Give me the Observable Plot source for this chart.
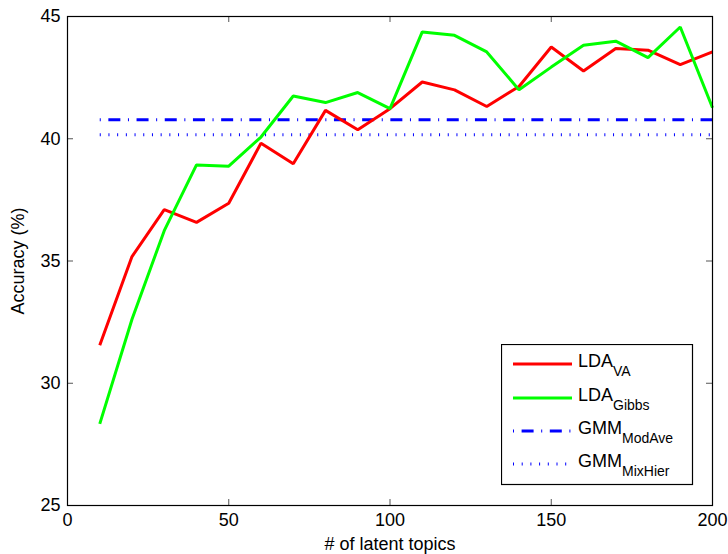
<!DOCTYPE html>
<html><head><meta charset="utf-8">
<script src="https://cdn.jsdelivr.net/npm/d3@7"></script>
<script src="https://cdn.jsdelivr.net/npm/@observablehq/plot@0.6"></script>
<style>
body{margin:0;background:#fff;}
#chart{position:relative;width:728px;height:554px;font-family:"Liberation Sans",Arial,sans-serif;}
#legend{position:absolute;left:501px;top:344px;}
</style></head><body><div id="chart"></div>
<script>
const topics = [10,20,30,40,50,60,70,80,90,100,110,120,130,140,150,160,170,180,190,200];
const ldaVA = [31.55,35.18,37.1,36.58,37.36,39.82,38.98,41.16,40.37,41.23,42.32,42.0,41.32,42.14,43.75,42.77,43.69,43.62,43.03,43.55];
const ldaGibbs = [28.34,32.62,36.24,38.93,38.88,40.07,41.75,41.48,41.89,41.23,44.37,44.23,43.55,42.0,42.93,43.82,43.99,43.32,44.57,41.27];
const gmmModAve = 40.78;
const gmmMixHier = 40.16;
const xTicks = [0,50,100,150,200];
const yTicks = [25,30,35,40,45];
const legendMain = ["LDA","LDA","GMM","GMM"];
const legendSub = ["VA","Gibbs","ModAve","MixHier"];

const W = 728, H = 554, mL = 67, mR = 16, mT = 16, mB = 49;
const plotW = W - mL - mR, plotH = H - mT - mB;
const TL = 6;

const rows = (vals) => topics.map((t, i) => ({t, v: Array.isArray(vals) ? vals[i] : vals}));

const styles = [
  {stroke: "#ff0000", strokeWidth: 3, dash: null},
  {stroke: "#00ff00", strokeWidth: 3, dash: null},
  {stroke: "#0000ff", strokeWidth: 3, dash: "1,7.6,12,7.6"},
  {stroke: "#0000ff", strokeWidth: 3, dash: "1,7.7"}
];
const seriesVals = [ldaVA, ldaGibbs, gmmModAve, gmmMixHier];

const chart = Plot.plot({
  width: W, height: H,
  marginLeft: mL, marginRight: mR, marginTop: mT, marginBottom: mB,
  style: {fontFamily: '"Liberation Sans", Arial, sans-serif', fontSize: "18px", color: "#000", background: "#fff"},
  x: {domain: [0, 200]},
  y: {domain: [25, 45]},
  marks: [
    Plot.axisX({ticks: xTicks, tickSize: 0, tickPadding: 8, fontSize: 18, label: "# of latent topics", labelArrow: "none", labelAnchor: "center", labelOffset: 44}),
    Plot.axisY({ticks: yTicks, tickSize: 0, tickPadding: 7, fontSize: 18, label: "Accuracy (%)", labelArrow: "none", labelAnchor: "center", labelOffset: 56}),
    Plot.tickX(xTicks, {x: d => d, insetTop: plotH - TL, stroke: "#555"}),
    Plot.tickX(xTicks, {x: d => d, insetBottom: plotH - TL, stroke: "#555"}),
    Plot.tickY(yTicks, {y: d => d, insetRight: plotW - TL, stroke: "#555"}),
    Plot.tickY(yTicks, {y: d => d, insetLeft: plotW - TL, stroke: "#555"}),
    ...[3, 2, 0, 1].map(i => Plot.line(rows(seriesVals[i]), {
      x: "t", y: "v", stroke: styles[i].stroke, strokeWidth: styles[i].strokeWidth,
      strokeDasharray: styles[i].dash, strokeLinecap: "butt", strokeLinejoin: "miter"
    })),
    Plot.frame({stroke: "#000", strokeWidth: 1.2})
  ]
});
document.getElementById("chart").appendChild(chart);

// Legend box inside the plot area
const lg = d3.select("#chart").append("svg").attr("id", "legend")
  .attr("width", 194).attr("height", 143);
lg.append("rect").attr("x", 0.5).attr("y", 0.5).attr("width", 191).attr("height", 140)
  .attr("fill", "#fff").attr("stroke", "#000").attr("stroke-width", 1.2);
const rowY = [20, 54, 87, 120];
legendMain.forEach((m, i) => {
  const g = lg.append("g");
  g.append("line").attr("x1", 12).attr("x2", 71).attr("y1", rowY[i]).attr("y2", rowY[i])
    .attr("stroke", styles[i].stroke).attr("stroke-width", styles[i].strokeWidth)
    .attr("stroke-dasharray", styles[i].dash);
  const t = g.append("text").attr("x", 77).attr("y", rowY[i] + 3)
    .attr("font-family", '"Liberation Sans", Arial, sans-serif').attr("font-size", 18).attr("fill", "#000");
  t.append("tspan").text(m);
  t.append("tspan").attr("font-size", 14).attr("dy", 9).text(legendSub[i]);
});
</script>
</body></html>
